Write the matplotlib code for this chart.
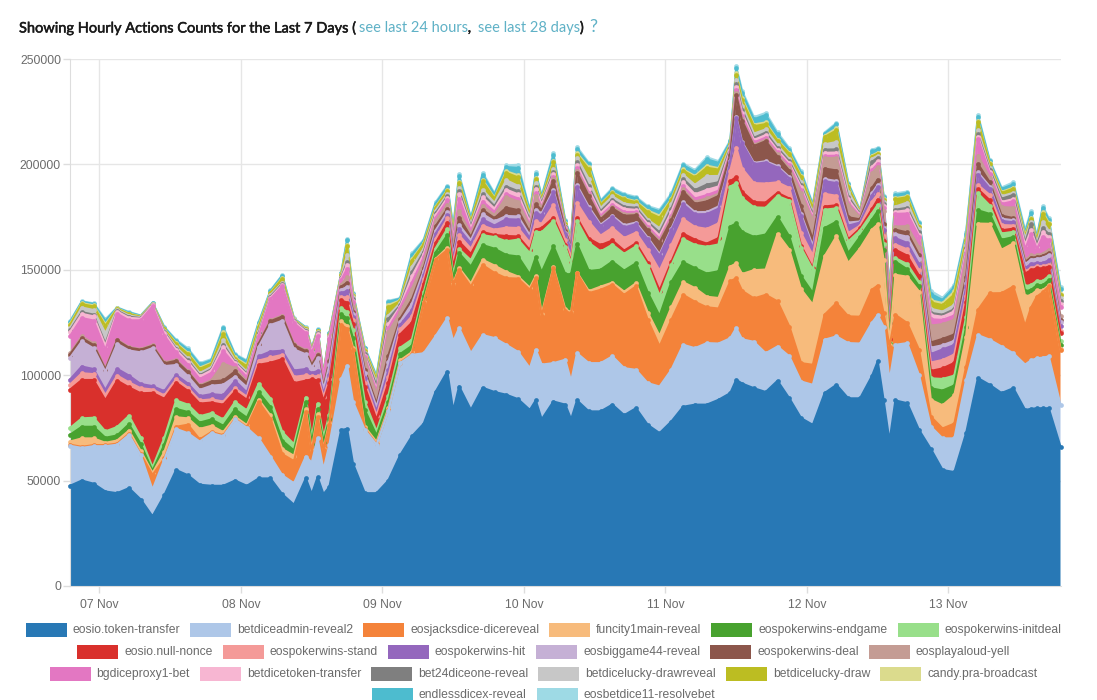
"""Hourly action counts, last 7 days: stacked area per contract action."""
import matplotlib
matplotlib.use("Agg")
import matplotlib.pyplot as plt
import matplotlib.patheffects as pe
from matplotlib.patches import Rectangle
import numpy as np

W, H = 1097, 700

# hours since the left edge of the chart (read at the even hours, plus spikes)
HOURS = [0, 2, 4, 6, 8, 10, 12, 14, 16, 18, 20, 22, 24, 26, 28, 30, 32, 34, 36, 38,
         40, 41, 42, 43, 44, 46, 47, 48, 50, 52, 54, 56, 58, 60, 62, 64, 65, 66, 68, 70,
         72, 74, 76, 78, 79, 80, 82, 84, 85, 86, 88, 90, 92, 94, 96, 98, 100, 102, 104, 106,
         108, 110, 112, 113, 114, 116, 118, 120, 122, 124, 126, 128, 130, 132, 134, 136, 137, 138, 139, 140,
         142, 144, 146, 148, 150, 152, 154, 156, 158, 160, 162, 163, 164, 165, 166, 168]

# values in thousands of actions
eosio_token_transfer = [
    47.5, 50, 48.5, 44.8, 44, 46.4, 41, 33, 43, 55,
    52.5, 48, 47.5, 47.5, 50, 47.5, 51, 51, 43.5, 38.5,
    51, 43.5, 51.5, 43.5, 47, 74, 74.5, 58, 44, 44,
    50, 62, 71, 77, 92, 101.7, 83, 94.6, 83.5, 94,
    92, 90.7, 88.6, 83.5, 88, 79, 87.5, 86, 79, 88,
    82.8, 82.8, 86, 81, 84.3, 76.4, 72.5, 78, 85, 86,
    86, 88.3, 91.5, 97.8, 96, 93.8, 92, 97.3, 89, 79.6,
    76.4, 91.5, 95.4, 89, 89, 99.4, 106.5, 88, 68.5, 88,
    86.7, 74, 65, 55, 54, 72.5, 98.6, 95.4, 91.5, 93.8,
    83.5, 84, 84.3, 84.3, 84.3, 66]
betdiceadmin_reveal2 = [
    19, 15.5, 17.8, 21.5, 23, 25.3, 21, 12.6, 17, 19.5,
    20, 20.5, 25, 23.5, 29, 27.5, 19, 10.4, 9, 10.2,
    10.4, 15, 18.5, 11.5, 20, 24, 30, 29.5, 30, 23,
    33, 43.7, 38.6, 33.4, 26.4, 25.3, 33, 27.7, 26.9, 25,
    25.6, 23.7, 22.4, 19.8, 24, 26, 18.2, 21.3, 18, 22.4,
    22.9, 22.9, 22.9, 22.3, 18.2, 19.8, 22.1, 24.5, 29.4, 26.8,
    29.2, 26.7, 26, 24.5, 21, 22, 18.4, 16.3, 19.9, 17.4,
    19, 25.3, 23, 26.2, 26, 25.3, 22, 35, 28.5, 26.4,
    28.5, 26, 10.6, 15, 16, 25.3, 20.4, 21.4, 22.1, 16.6,
    21.5, 23, 23.7, 24, 24.6, 20]
eosjacksdice_dicereveal = [
    .5, .5, .5, .5, .5, .5, .5, 7, .5, 1,
    4, 1, .5, .5, .3, .3, 17.4, 18, 10, 10.5,
    21, 5, 10, 9.6, 9.5, 26, 17.4, 24.5, .5, .3,
    .3, .3, .3, 24, 36.4, 32.4, 27, 27.7, 31.6, 33.2,
    30.9, 31.6, 34.8, 37.2, 34, 23, 45, 23, 32.4, 38,
    33.2, 34.8, 34, 34.8, 39.6, 30, 19, 23.7, 23.7, 22,
    17, 16.6, 27, 23.7, 23, 20.6, 27.7, 21.4, 14.2, 8.7,
    9.5, 11.9, 15.8, 12.7, 12.7, 15.8, 14, 6.3, 16.6, 14.2,
    9.5, 12, 4.7, 4.7, 7, 6.3, 11.9, 22, 25.3, 31.6,
    18.2, 25, 29.3, 31, 33.2, 26]
funcity1main_reveal = [
    1.5, 4, 3.2, 1.1, 1.5, 1.5, 1.5, 1, 3, 4.5,
    3, 5, 3, 1.5, 1, 1, 1, 1.5, 2.5, 2.5,
    1.5, 1, 1.5, .5, 1, 1.5, 1.5, 1, 1, 1,
    1, 1, 1, .5, .3, 1, .5, .8, 1.5, 2.5,
    3.5, 3, 1, 1, 1, 1, .5, 1, .5, .3,
    1, 1.5, 1, 1.5, 1.5, 3.5, 5, 6, 6, 6.5,
    5, 5, 7, 7, 8, 13.4, 12, 32, 36.4, 35,
    28.5, 27.7, 31.6, 25.3, 32.4, 28.5, 29, 25.3, .5, 19,
    22, 27.7, 8, 11, 13.4, 14.2, 41, 33, 20.6, 20.5,
    14.2, 6, 3, 1, .5, .5]
eospokerwins_endgame = [
    3.2, 5.5, 5.5, 2.4, 2.4, 3, 3.2, 1, 3.5, 4,
    3, 3, 3, 3, 3.5, 3.5, 3.5, 4, 4, 2.5,
    3.5, 3, 2.5, 3, 1.8, 3.5, 3.5, 4.5, 8, 3,
    3, 3, 3, 2.5, 3, 6, 2, 7, 8, 7,
    8, 8, 9.5, 6.3, 9, 19.8, 10, 16.6, 18, 13.4,
    9.5, 8, 10, 10, 9.5, 9.5, 9.5, 12, 9.5, 9.5,
    11, 12.7, 19, 19, 20, 15.8, 16.6, 8, 6.3, 6.3,
    5.5, 13.4, 7, 4.7, 5.5, 4.7, 6.3, 4.7, .8, 6.3,
    3.5, 2.5, 5.5, 7, 4.7, 4.7, 6.3, 4.7, 4.7, 3,
    2.4, 2.4, 2.4, 2.4, 2.4, 2]
eospokerwins_initdeal = [
    3.2, 4, 4.3, 3, 4, 4, 3.2, 1.6, 3.2, 4,
    3.5, 3, 3, 3, 3.5, 3.5, 4, 4, 4, 3,
    2, 2.5, 2.5, 2.5, 2, 3, 3, 4, 4, 2,
    3, 3, 3, 2, 2, 3, 2, 2, 3, 4.7,
    5.5, 6.5, 8, 10, 12, 19, 12, 13, 5, 11,
    13.4, 8.7, 8, 8, 8, 12.7, 9.5, 8, 11, 11,
    12.7, 12.7, 19, 19, 16, 14, 12.7, 10, 17, 13.4,
    11, 8.7, 6.3, 5.5, 3, 3, 3, 3, .5, 1.6,
    2.5, 2, 4.7, 5.5, 4.7, 4.7, 8, 4, 3, 2.5,
    2.4, 2.4, 2, 2, 2, 1.5]
eosio_null_nonce = [
    18.2, 18.2, 17.9, 14.8, 22, 13.5, 21, 35.4, 18.6, 8.5,
    6.5, 6, 5, 7, 5, 5, 9, 17, 34.6, 29,
    8, 28, 11, 17, 15, 3.5, 4.5, 3, 7, 5.5,
    6, 6.3, 8, 4, 2.5, 3, 3.5, 3.5, 3, 1.5,
    1, 2.5, 1.5, 1.5, 1, 2, 1.5, 1, .6, 1.5,
    2, 3, 2, 1.5, 1.5, 1.5, 2.5, 1.5, 2.5, 2.5,
    1.5, 3, 2.5, 3, 3, 2.5, 2.5, 1.5, 1, 1,
    .8, 1.5, 1.5, 1, 1, 2, 2.5, 1.5, 2, 4,
    4, 3, 3.5, 5, 6, 7, 2, 2.5, 1.5, 1.5,
    6, 7, 6, 6, 4.5, 4]
eospokerwins_stand = [
    2.4, 3.2, 2.8, 2.4, 2.4, 2.4, 2.4, 1.6, 1.6, 1.6,
    1.5, 1.5, 1.5, 1.5, 1.5, 1.5, 2, 2.5, 2, 3,
    2.5, 1.5, 2, 2, 2, 1.5, 2.5, 1.5, 2, 2,
    3, 2.5, 3, 2, 2, 2, 2, 3, 2.5, 3,
    2.5, 4, 4, 3.5, 4, 2, 6, 2, 2, 7,
    8, 4.5, 6, 6, 5, 6, 9.5, 8, 7, 6,
    7, 7, 5, 14, 11, 9, 9, 5, 5, 6,
    6, 6, 4.5, 3, 1.3, 3.5, 2.5, 2, 2, 2.5,
    3, 2.5, 4, 4, 4, 3, 2, 2.5, 2.5, 1.5,
    1, 1, 1, 1, 1, 1.2]
eospokerwins_hit = [
    2.4, 3.2, 2.4, 2.4, 3.2, 3.2, 2, 1.6, 2, 2,
    2, 2, 2.5, 3, 3.5, 2, 2, 2.8, 2, 3,
    3, 1.5, 2.5, 1.5, 2, 2, 3, 1.8, 2, 2,
    3, 2, 3, 2, 2.5, 1.5, 2, 3, 2.5, 3,
    2, 4, 4, 2, 4, 4, 6, 3, 3.5, 7.5,
    6, 4.5, 5, 5, 4, 5, 7, 7, 7, 6,
    7, 7, 4, 14, 12, 9, 10, 7, 4.5, 8,
    3, 6, 6, 3.5, 1.5, 3, 3.5, 3, 2.5, 3,
    3, 3, 4, 5, 4.5, 4, 5, 3, 2, 1.5,
    1.5, 2, 1.5, 1.5, 2, 2]
eosbiggame44_reveal = [
    10.3, 11.9, 9.8, 8.7, 11.9, 11.9, 15, 18, 11.9, 4.7,
    3.5, 3, 4, 5, 2, 2.5, 4.5, 12.6, 14.2, 10,
    7, 2.5, 6, 2, 4.5, 1.5, 2, 1.2, 2.5, 2,
    4, 1.5, 3, 2, 1.5, 1.5, 1.5, 2, 1.5, 2.5,
    2, 1.5, 1.5, 1.5, 1.5, 1, 1, .5, .5, 1,
    1, .7, .7, 1, .8, .8, .8, .8, 1, 1,
    1, 1, .6, .7, .6, .6, .6, .7, .7, 1,
    1.5, 1, 1, 1.5, .5, 1, 1, 1, 1, 2,
    3, 2.5, 3, 2, 2, 2, 1, 1, 1, 1,
    2, 2, 2, 2.5, 2.5, 2]
eospokerwins_deal = [
    1.6, 1.6, 1.6, 1.1, 1.6, 1.3, 1.3, 1.1, 1.3, 2,
    2, 1.7, 2, 2, 2.5, 2, 1.5, 1.8, 2, 2,
    1.5, 1.3, 1.5, 1, 1.8, 1.5, 2, 1.2, 1.5, 1.5,
    3, 1.5, 2, 1.5, 2, 1.5, 1.5, 3.5, 1.5, 2,
    1.5, 4, 3, 1.5, 2.5, 1.5, 4.5, 1, 1, 6,
    5, 2.5, 3.5, 4.5, 3.5, 3.5, 5.5, 4, 5, 4,
    5, 5, 3, 10, 10, 8, 9.5, 4.5, 3, 4,
    3, 5, 5, 2.5, 1, 2.5, 2.5, 2, 2, 2,
    2, 2, 2.5, 3, 3, 3, 4, 2, 1.5, 1,
    1, 1, .8, 1, 1, 1]
eosplayaloud_yell = [
    .5, .8, .8, .5, .4, .3, .3, .5, .5, .5,
    .5, .5, .6, 8, 1.5, .8, .5, .5, .5, .5,
    .5, .5, .5, .4, .5, 1, 2.5, 2, 5, 4.5,
    11, 3, 5, 3, 2.5, 2, 3, 3, 1.5, 2,
    1.5, 5, 4, 2.5, 4, 1, 1, .5, .5, 1,
    .8, .7, .7, .8, .7, .7, .8, 1, 1, 1,
    1.5, 1, .5, 1, .8, .7, .7, 1, 1.3, 6,
    9, 5, 6, 6, 1, 7, 6, 6, 5, 1.5,
    3, 3.5, 8, 7, 7, 8, 4, 2, 4, 5,
    1, 1, .8, 1, 1.5, 2]
bgdiceproxy1_bet = [
    8.2, 8.7, 10.8, 8.7, 12.3, 12.7, 13.6, 18.2, 12.7, 3.5,
    3, 3, 3.5, 6, 1.5, 2, 3, 10, 13.9, 10,
    8, 5, 8.5, 4, 10, 2, 4, 2.5, 1, 1.5,
    2, 2, 3, 2, 1.5, 2, 2, 6, 1.5, 2,
    1.5, 1.5, 1.5, 1, 1.5, .5, .8, .4, .4, 1,
    1, 1, 1, 1, .8, 1, 1, 1, 1.5, 1.5,
    1.5, 1.5, .8, 1.5, 1.5, 1, 1, 1, 1.2, 1.5,
    1, 1, 1, 1, .5, 1.5, 1.5, 1.5, 1.5, 6,
    6, 5, 3, 2, 2, 3, 8, 2, 1.5, 3,
    5, 10, 3, 8, 4.5, 4]
betdicetoken_transfer = [
    2, 2, 2, 2, 1, 1.2, .8, .6, 1.2, 1.2,
    1.3, 1.2, 1.2, 2, .8, 1, .8, .7, .6, .7,
    .8, .8, .9, .5, .8, .8, 2, .7, .8, 1,
    2, .7, 3, 1.5, 1.2, 1.2, 1.2, 2, 1.2, 2,
    1.5, 2, 2, 1.2, 2, 1, 1.5, .6, .6, 1.5,
    1.5, 1.2, 1.5, 1.5, 1, 1.2, 1.5, 2, 2, 2,
    2.5, 2, 1, 1.5, 1.5, 1.2, 1.2, 1, 1, 1.2,
    .8, 1.5, 1.5, 1.5, .5, 1.5, 1.3, 1, 1, 1,
    1.5, 1, 2, 1.5, 2, 1.5, 1, 1, 1, 1,
    2, 2, 1, 2, 1.5, 1.5]
bet24diceone_reveal = [
    .8, .8, .8, 1, .4, .5, .3, .2, .5, .5,
    .7, .6, .6, 1, .5, .6, .6, .5, .5, .3,
    .4, .3, .4, .3, .4, .4, 1.2, .6, .7, 1.5,
    2.5, .6, 2, 1.2, 1, .8, 1, 1.5, .8, 1.5,
    1.2, 1.5, 1.5, 1, 1, .7, 1, .5, .5, 1.5,
    1.5, 1, 1, 1, 1, 1, 1.5, 1.5, 1.5, 2,
    2.5, 2, .8, 1.5, 1.5, 1, 1.2, 1, 1, 1,
    1, 1.5, 1.5, 1.2, .5, 2.5, 1.5, 1, 1.5, 1,
    1.2, 1, 1, 1, 1, 1, 1, 1, 1.5, 2,
    1, 3, 1, 2, 1.5, 1.5]
betdicelucky_drawreveal = [
    1, 2.2, 2.2, 5, .4, .6, .3, .2, .5, .8,
    1, 1, 1, 2, .8, 1, 1, .8, .5, .3,
    .4, .3, .5, .3, .3, .6, 3.5, 1, .7, 1.5,
    1.5, 1, 2.5, 1.5, 1.2, 1, 1, 1.5, 1, 2,
    1.5, 3, 2.5, 1, 1.5, .8, 1.5, .6, .5, 2,
    3.5, 1.5, 1.5, 1.5, 1.2, 1.2, 2, 2, 2, 2.5,
    4, 3, .8, 2, 2, 2, 1.5, 1.5, 1, 1.5,
    1, 2.5, 3.5, 2.5, .5, 1.5, 1, 1, 1.5, 1.5,
    2.5, 1.5, 2, 1.5, 2, 1.5, 2, 1, 1.2, 1,
    2, 1, 1, 3, 1.5, 1.5]
betdicelucky_draw = [
    1.5, 1.6, 1.7, 3.5, .5, .7, .3, .3, .8, 1.5,
    2, 2, 1.5, 3, 1, 2.5, 2, .8, 2, .3,
    .5, .5, .6, .4, .5, .8, 4, .8, 1, 1.5,
    4, 1, 3, 2, 1.5, 1.5, 1.5, 2.5, 1.2, 4,
    2, 3.5, 4, 1.5, 2, 1, 3, .8, .7, 1.5,
    4.5, 1.5, 1.5, 2, 1.5, 3.5, 5, 2, 2, 3.5,
    4, 3, 1, 2, 2.5, 3.5, 2.5, 2, 2.5, 2.5,
    2, 3.5, 5.5, 2, .5, 1, 1, 1, 1.5, 3.5,
    2.5, 1, 3, 3, 5, 2.5, 4, 1.5, 1.5, 2,
    1, 1.5, 1, 4, 3, 1.5]
candy_pra_broadcast = [
    .6, .5, .5, .8, .2, .2, .2, .1, .2, .5,
    .6, .6, .5, .8, .5, .8, .8, .3, .4, .2,
    .2, .2, .2, .1, .2, .3, .8, .3, .4, .5,
    1, .4, .7, .5, .4, .4, .5, .5, .4, .7,
    .5, .7, 1, .5, .5, .3, .8, .2, .2, .7,
    1, .4, .4, .5, .4, .8, 1, .5, .5, .7,
    1, .7, .4, 1, 1, .8, .8, .5, .5, .5,
    .5, .6, 1, .5, .2, .5, .5, .3, .3, .5,
    .5, .5, 1, 1, 1.5, 1, .5, .5, .5, .5,
    .5, .5, .4, .7, .8, .5]
endlessdicex_reveal = [
    .8, .6, .7, 1.6, .3, .5, .3, .3, .6, 1,
    1.5, 1.5, 1.2, 2, 1.2, 1.5, 1.2, .7, 1, .3,
    .4, .4, .5, .3, .5, .4, 2, .6, .7, 1,
    1.5, .8, 2, 1.2, 1.5, 1.5, 1.5, 2.5, 1.2, 2.5,
    1.5, 2, 3.5, 1.2, 2, 1, 2.5, 1, 1.3, 2,
    1.5, 1.2, 1.5, 1.5, 1.5, 1.5, 2, 2, 2, 2,
    3, 2.5, 1, 2.3, 2.5, 2.5, 3.5, 2.5, 1.5, 1.5,
    1, 1, 2, 1.2, .4, 2, 1.5, 1, 1.5, 1.5,
    1.5, 1.5, 3, 1.5, 2, 2, 2, 1, 1.5, 1.5,
    1.5, 2, 1, 2, 1.5, 2]
eosbetdice11_resolvebet = [
    .4, .2, .3, .7, .1, .3, .1, .1, .3, .5,
    .6, .6, .5, .7, .4, .5, .4, .3, .3, .1,
    .1, .1, .1, .1, .1, .2, .5, .2, .2, .5,
    .5, .2, .8, .5, .6, .6, .7, 1, .5, .8,
    .6, .8, 1.5, .5, .7, .4, 1, .4, .4, 1,
    .6, .5, .6, .6, .6, .6, .8, .7, .8, .8,
    1, .8, .5, 1, 1, 1, 1, 1, .7, .8,
    .5, .5, .6, .6, .2, .7, .7, .5, .6, .7,
    .7, .6, 1.5, 1, 1, .7, .8, .5, .6, 1,
    1, 1, .5, .8, .7, 1]

SERIES = [eosio_token_transfer, betdiceadmin_reveal2, eosjacksdice_dicereveal,
          funcity1main_reveal, eospokerwins_endgame, eospokerwins_initdeal,
          eosio_null_nonce, eospokerwins_stand, eospokerwins_hit, eosbiggame44_reveal,
          eospokerwins_deal, eosplayaloud_yell, bgdiceproxy1_bet, betdicetoken_transfer,
          bet24diceone_reveal, betdicelucky_drawreveal, betdicelucky_draw,
          candy_pra_broadcast, endlessdicex_reveal, eosbetdice11_resolvebet]
LABELS = ["eosio.token-transfer", "betdiceadmin-reveal2", "eosjacksdice-dicereveal",
          "funcity1main-reveal", "eospokerwins-endgame", "eospokerwins-initdeal",
          "eosio.null-nonce", "eospokerwins-stand", "eospokerwins-hit", "eosbiggame44-reveal",
          "eospokerwins-deal", "eosplayaloud-yell", "bgdiceproxy1-bet", "betdicetoken-transfer",
          "bet24diceone-reveal", "betdicelucky-drawreveal", "betdicelucky-draw",
          "candy.pra-broadcast", "endlessdicex-reveal", "eosbetdice11-resolvebet"]
COLORS = ["#2878b5", "#aec7e8", "#f4833a", "#f7bb7c", "#48a22f", "#98df8a", "#d9302c",
          "#f49a98", "#9467bd", "#c5b0d5", "#8c564b", "#c49c94", "#e377c2", "#f7b6d2",
          "#7f7f7f", "#c7c7c7", "#bcbd22", "#dbdb8d", "#4dbccf", "#9edae5"]
DAY_LABELS = ["07 Nov", "08 Nov", "09 Nov", "10 Nov", "11 Nov", "12 Nov", "13 Nov"]
Y_TICKS = [0, 50000, 100000, 150000, 200000, 250000]
FIRST_DAY_HOUR = 5  # midnight of 07 Nov, hours after the left edge
LEGEND_ROWS = [6, 6, 6, 2]
LEGEND_Y = [630, 652, 674, 695]

plt.rcParams["font.family"] = ["Liberation Sans", "DejaVu Sans"]
GREY = "#6b6b6b"
GRID = "#e6e6e6"

fig = plt.figure(figsize=(W / 100, H / 100), dpi=100)
ax = fig.add_axes([70 / W, 1 - 586 / H, 990.5 / W, 527 / H])

hours = np.array(HOURS, dtype=float)
stack = np.array(SERIES, dtype=float) * 1000
ax.stackplot(hours, stack, colors=COLORS, linewidth=0, zorder=2)
tops = np.cumsum(stack, axis=0)
for i in range(len(SERIES) - 1, -1, -1):
    ax.plot(hours, tops[i], color=COLORS[i], lw=1.6, marker="o", ms=3.4, mew=0,
            zorder=3 + len(SERIES) - i, clip_on=False)

ax.set_xlim(0, 168)
ax.set_ylim(0, 250000)
ax.set_xticks([FIRST_DAY_HOUR + 24 * d for d in range(len(DAY_LABELS))], DAY_LABELS)
ax.set_yticks(Y_TICKS, [str(v) for v in Y_TICKS])
ax.grid(True, color=GRID, lw=1, zorder=0)
ax.set_axisbelow(True)
ax.tick_params(axis="both", color="#dddddd", labelcolor=GREY, labelsize=8.7, length=5, width=1)
ax.tick_params(axis="x", pad=4)
ax.tick_params(axis="y", pad=1.5)
for side in ["top", "right"]:
    ax.spines[side].set_visible(False)
ax.spines["left"].set_color("#dddddd")
ax.spines["bottom"].set_color("#dddddd")

# title made of pieces, links in teal
renderer = fig.canvas.get_renderer()
x = 19
TEAL = "#5fb1c6"
stroke = [pe.withStroke(linewidth=0.35, foreground="#1a1a1a")]
for txt, col in [("Showing Hourly Actions Counts for the Last 7 Days (", "#1a1a1a"),
                 ("see last 24 hours", TEAL), (", ", "#1a1a1a"),
                 ("see last 28 days", TEAL), (")", "#1a1a1a")]:
    t = fig.text(x / W, 1 - 28 / H, txt, color=col, fontsize=10.5, family=["Lato", "DejaVu Sans"],
                 va="center", ha="left")
    if col != TEAL:
        t.set_path_effects(stroke)
    x = t.get_window_extent(renderer).x1 + (3 if txt.endswith(" ") else 0)
fig.text(593 / W, 1 - 27 / H, "?", color=TEAL, fontsize=13, family=["Lato", "DejaVu Sans"],
         va="center", ha="center")

# legend rows, centred under the plot
SWATCH_W, SWATCH_H = 41, 14
start = 0
for n, ly in zip(LEGEND_ROWS, LEGEND_Y):
    items = []
    for i in range(start, start + n):
        t = fig.text(0, 1 - ly / H, LABELS[i], color=GREY, fontsize=8.7, va="center", ha="left")
        items.append((i, t, t.get_window_extent(renderer).width))
    total = sum(SWATCH_W + 6 + w for _, _, w in items) + 10 * (n - 1)
    lx = 543.5 - total / 2
    for i, t, w in items:
        fig.add_artist(Rectangle((lx / W, 1 - (ly + SWATCH_H / 2) / H), SWATCH_W / W, SWATCH_H / H,
                                 transform=fig.transFigure, facecolor=COLORS[i], edgecolor="none"))
        t.set_x((lx + SWATCH_W + 6) / W)
        lx += SWATCH_W + 6 + w + 10
    start += n

fig.savefig("out.png", dpi=100)
